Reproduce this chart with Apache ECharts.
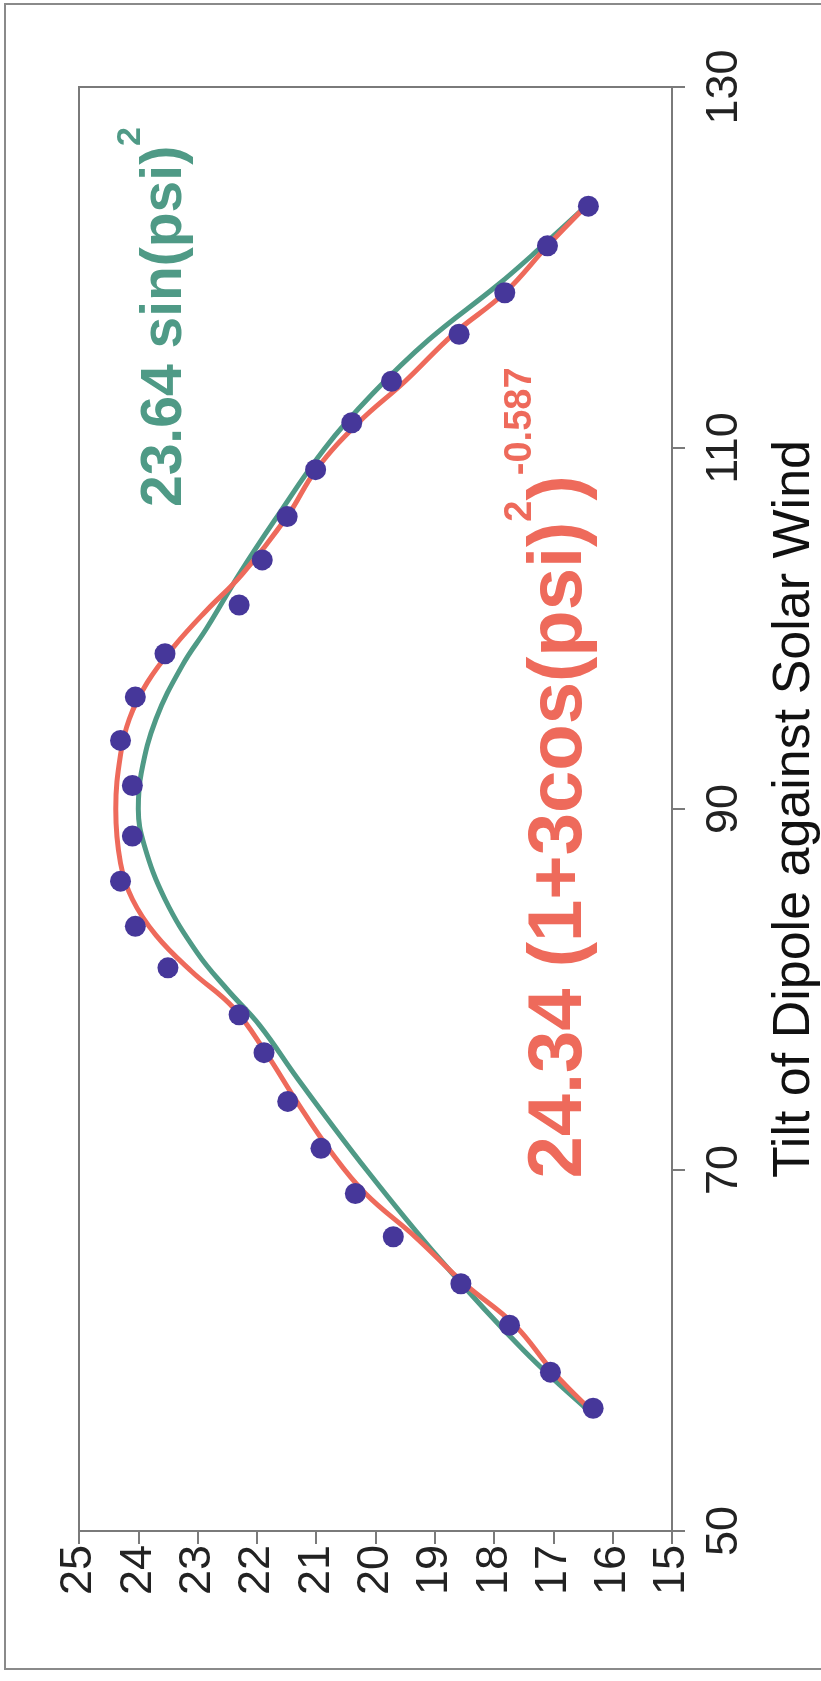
<!DOCTYPE html>
<html>
<head>
<meta charset="utf-8">
<script src="https://cdn.jsdelivr.net/npm/echarts@6/dist/echarts.min.js"></script>
<style>
html,body{margin:0;padding:0;background:#fff;}
#chart{width:821px;height:1681px;}
</style>
</head>
<body>
<div id="chart"></div>
<script>
// measured points: tilt (deg) and value
var tilt = [56.8,58.8,61.4,63.7,66.3,68.7,71.2,73.8,76.5,78.6,81.2,83.5,86.0,88.5,91.3,93.8,96.2,98.6,101.3,103.8,106.2,108.8,111.4,113.7,116.3,118.6,121.2,123.4];
var measured = [16.33,17.05,17.74,18.56,19.70,20.34,20.92,21.48,21.88,22.30,23.50,24.05,24.30,24.10,24.10,24.30,24.05,23.55,22.30,21.91,21.49,21.01,20.40,19.73,18.59,17.82,17.10,16.41];

// green fit
var greenTilt = [56.8,60,65,70,75,78,80,82,85,88,90,92,95,98,100,103,106,110,113,116,119,121,123.4];
var greenFit = [16.45,17.5,18.9,20.15,21.3,21.95,22.5,23.0,23.55,23.9,24.0,23.95,23.7,23.25,22.85,22.3,21.7,20.85,20.05,19.1,17.95,17.25,16.45];

// red fit
var redTilt = [56.8,58.8,61.4,63.7,66.3,68.7,71,73.8,76.5,79,81,83,85,87,90,93,95,97,99,101,103,106.2,108.8,111.4,113.7,116.3,118.6,121.2,123.4];
var redFit = [16.4,17.0,17.65,18.5,19.33,20.17,20.75,21.33,21.85,22.4,23.1,23.7,24.1,24.3,24.38,24.3,24.15,23.85,23.4,22.85,22.25,21.49,21.0,20.29,19.5,18.69,17.82,17.1,16.45];

var valueTicks = [15,16,17,18,19,20,21,22,23,24,25];
var tiltTicks = [50,70,90,110,130];

function pairs(xs, ys) {
  var out = [];
  for (var i = 0; i < xs.length; i++) out.push([ys[i], xs[i]]);
  return out;
}

var chart = echarts.init(document.getElementById('chart'));

var axisColor = '#7a7a7a';
var font = 'Liberation Sans, Arial, sans-serif';
var green = '#4f9a86';
var red = '#ee6a5b';

var option = {
  backgroundColor: '#fff',
  animation: false,
  grid: {
    left: 79, right: 149, top: 87, bottom: 150,
    show: true, borderColor: axisColor, borderWidth: 2
  },
  xAxis: {
    type: 'value', min: 15, max: 25, interval: 1, inverse: true,
    position: 'bottom',
    splitLine: {show: false},
    axisLine: {lineStyle: {color: axisColor, width: 2}},
    axisTick: {inside: false, length: 13, lineStyle: {color: axisColor, width: 2}},
    axisLabel: {
      rotate: 90, margin: 14, color: '#222', fontSize: 45, fontFamily: font,
      formatter: function (v) { return valueTicks.indexOf(v) >= 0 ? String(v) : ''; }
    }
  },
  yAxis: {
    type: 'value', min: 50, max: 130, interval: 20,
    position: 'right',
    splitLine: {show: false},
    axisLine: {lineStyle: {color: axisColor, width: 2}},
    axisTick: {inside: false, length: 13, lineStyle: {color: axisColor, width: 2}},
    axisLabel: {
      rotate: 90, margin: 30, color: '#222', fontSize: 45, fontFamily: font,
      formatter: function (v) { return tiltTicks.indexOf(v) >= 0 ? String(v) : ''; }
    }
  },
  graphic: [
    {
      type: 'polyline', silent: true,
      shape: {points: [[821, 4], [5, 4], [5, 1669], [821, 1669]]},
      style: {fill: 'none', stroke: '#8a8a8a', lineWidth: 2}
    },
    {
      type: 'text', x: 795, y: 809, rotation: Math.PI / 2,
      style: {
        text: 'Tilt of Dipole against Solar Wind', fill: '#111',
        font: '52px ' + font, align: 'center', verticalAlign: 'middle'
      }
    },
    {
      type: 'text', x: 550, y: 773, rotation: Math.PI / 2,
      style: {
        text: '{m|24.34 (1+3cos(psi)}{s|2}{m|)}{s|-0.587}',
        align: 'center', verticalAlign: 'middle',
        rich: {
          m: {fill: red, fontSize: 76, fontWeight: 'bold', fontFamily: font, lineHeight: 96, verticalAlign: 'bottom'},
          s: {fill: red, fontSize: 38, fontWeight: 'bold', fontFamily: font, lineHeight: 96, verticalAlign: 'top'}
        }
      }
    },
    {
      type: 'text', x: 154, y: 317, rotation: Math.PI / 2,
      style: {
        text: '{m|23.64 sin(psi)}{s|2}',
        align: 'center', verticalAlign: 'middle',
        rich: {
          m: {fill: green, fontSize: 57, fontWeight: 'bold', fontFamily: font, lineHeight: 80, verticalAlign: 'bottom'},
          s: {fill: green, fontSize: 34, fontWeight: 'bold', fontFamily: font, lineHeight: 80, verticalAlign: 'top'}
        }
      }
    }
  ],
  series: [
    {
      name: 'green fit', type: 'line', smooth: 0.4, showSymbol: false,
      data: pairs(greenTilt, greenFit),
      lineStyle: {color: green, width: 5}, z: 2
    },
    {
      name: 'red fit', type: 'line', smooth: 0.4, showSymbol: false,
      data: pairs(redTilt, redFit),
      lineStyle: {color: red, width: 5}, z: 3
    },
    {
      name: 'measured', type: 'scatter', symbolSize: 21,
      data: pairs(tilt, measured),
      itemStyle: {color: '#46379a', opacity: 1}, z: 4
    }
  ]
};

chart.setOption(option);
</script>
</body>
</html>
